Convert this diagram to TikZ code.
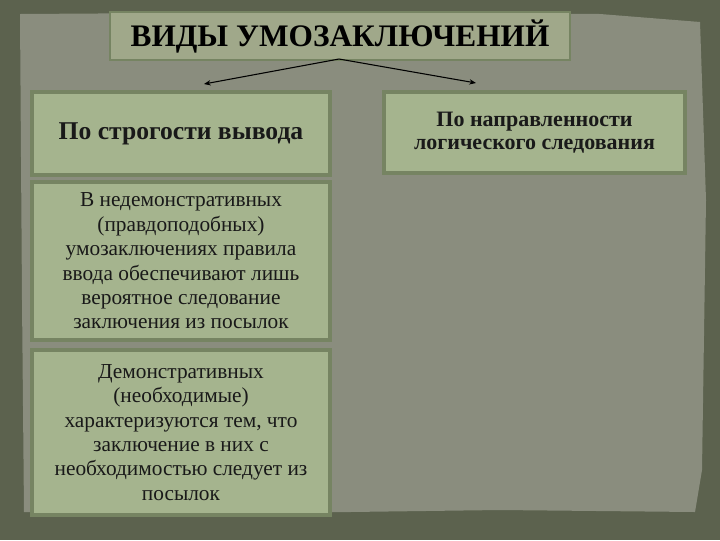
\documentclass[tikz,border=0pt]{standalone}
\usepackage{fontspec}
\setmainfont{Liberation Serif}
\usetikzlibrary{arrows.meta}
\definecolor{frame}{RGB}{92,98,78}
\definecolor{paper}{RGB}{138,141,126}
\definecolor{boxfill}{RGB}{165,180,142}
\definecolor{boxedge}{RGB}{118,132,98}
\definecolor{titlefill}{RGB}{160,168,138}
\tikzset{
  greenbox/.style={draw=boxedge, line width=2.5pt, fill=boxfill, inner sep=0pt, align=center, text=black!90},
  bodytext/.style={font=\fontsize{16}{18.3}\selectfont},
  link/.style={line width=0.8pt, -{Stealth[length=5pt,width=4pt]}}
}
\begin{document}
\begin{tikzpicture}[x=0.75pt,y=-0.75pt]
\useasboundingbox (0,0) rectangle (720,540);
\fill[frame] (0,0) rectangle (720,540);
\fill[paper] (20,14) -- (330,12) -- (600,14) -- (700,22) -- (706,200) -- (702,470) -- (695,512) -- (500,510) -- (200,514) -- (24,512) -- (22,300) -- cycle;
% title
\node[draw=boxedge, line width=2pt, fill=titlefill, minimum width=460*0.75pt, minimum height=48*0.75pt, inner sep=0pt,
      font=\bfseries\fontsize{23.5}{24}\selectfont] (title) at (340,36) {ВИДЫ УМОЗАКЛЮЧЕНИЙ};
% boxes
\node[greenbox, minimum width=298*0.75pt, minimum height=83*0.75pt, font=\bfseries\fontsize{19.2}{20}\selectfont] (strict) at (181,133.5) {По строгости вывода};
\node[greenbox, minimum width=301*0.75pt, minimum height=81*0.75pt, font=\bfseries\fontsize{16.5}{17.3}\selectfont] (dir) at (534.5,132.5) {По направленности\\логического следования};
\node[greenbox, bodytext, minimum width=298*0.75pt, minimum height=158*0.75pt] (nondemo) at (181,261)
 {В недемонстративных\\(правдоподобных)\\умозаключениях правила\\ввода обеспечивают лишь\\вероятное следование\\заключения из посылок};
\node[greenbox, bodytext, minimum width=298*0.75pt, minimum height=165*0.75pt] (demo) at (181,432.5)
 {Демонстративных\\(необходимые)\\характеризуются тем, что\\заключение в них с\\необходимостью следует из\\посылок};
% connectors
\coordinate (split) at (339,59);
\coordinate (lend) at (204,84);
\coordinate (rend) at (476,83);
\draw[link] (split) -- (lend);
\draw[link] (split) -- (rend);
\end{tikzpicture}
\end{document}
